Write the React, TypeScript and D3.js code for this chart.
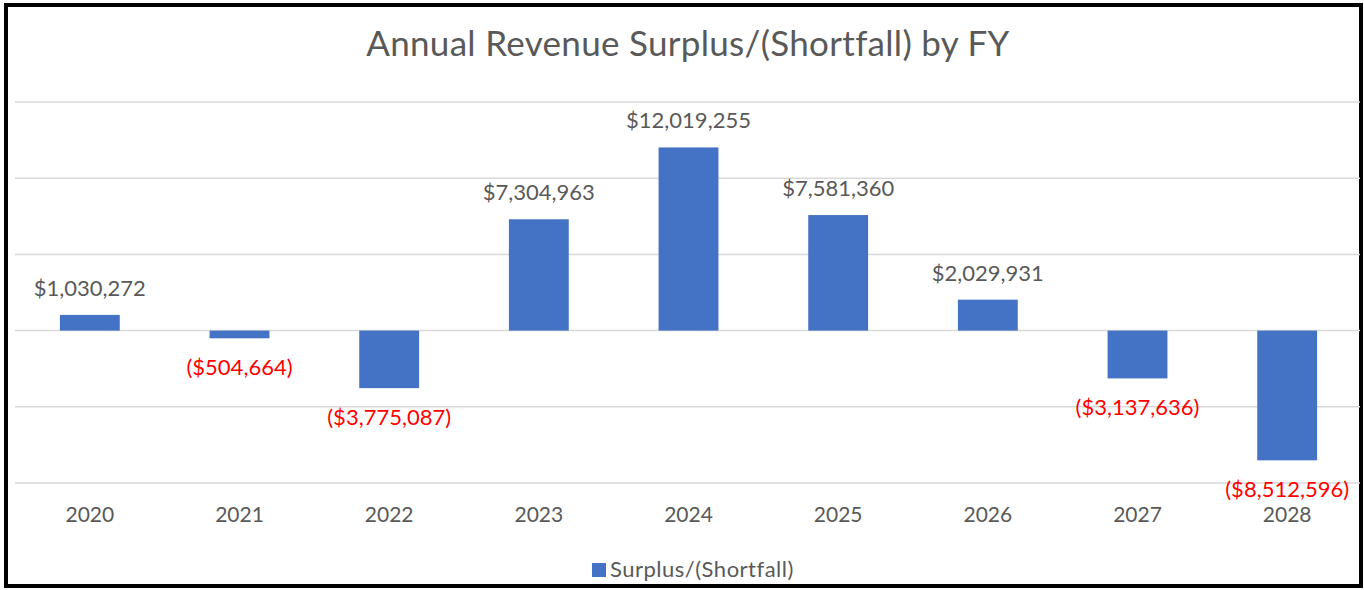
import React, { useEffect, useRef } from 'react';
import * as d3 from 'd3';

const years = ['2020', '2021', '2022', '2023', '2024', '2025', '2026', '2027', '2028'];
const surplus = [1030272, -504664, -3775087, 7304963, 12019255, 7581360, 2029931, -3137636, -8512596];
const gridTicks = [-10000000, -5000000, 0, 5000000, 10000000, 15000000];

const W = 1364;
const H = 590;
const FONT = 'Lato, "Noto Sans", sans-serif';

const fmt = (v: number) => {
  const s = '$' + d3.format(',')(Math.abs(v));
  return v < 0 ? `(${s})` : s;
};

const App = () => {
  const svgRef = useRef<SVGSVGElement>(null);

  useEffect(() => {
    const svg = d3.select(svgRef.current);
    svg.selectAll('*').remove();

    svg.append('rect')
      .attr('width', W).attr('height', H).attr('fill', '#fff');

    // outer frame
    svg.append('rect')
      .attr('x', 6).attr('y', 5)
      .attr('width', 1355).attr('height', 581)
      .attr('fill', 'none').attr('stroke', '#000').attr('stroke-width', 4);

    const x = d3.scaleBand()
      .domain(years)
      .range([15, 1362])
      .paddingInner(0.6)
      .paddingOuter(0.3);

    const y = d3.scaleLinear()
      .domain([-10000000, 15000000])
      .range([483, 102]);

    svg.append('text')
      .attr('x', 688).attr('y', 56)
      .attr('text-anchor', 'middle')
      .attr('font-family', FONT).attr('font-size', 35)
      .attr('letter-spacing', 0.3)
      .attr('fill', '#595959')
      .text('Annual Revenue Surplus/(Shortfall) by FY');

    // gridlines
    svg.append('g').selectAll('line')
      .data(gridTicks)
      .enter().append('line')
      .attr('x1', 15).attr('x2', 1360)
      .attr('y1', d => y(d)).attr('y2', d => y(d))
      .attr('stroke', '#d9d9d9').attr('stroke-width', 1.5);

    svg.append('g').selectAll('rect')
      .data(surplus)
      .enter().append('rect')
      .attr('x', (d, i) => x(years[i]))
      .attr('width', x.bandwidth())
      .attr('y', d => y(Math.max(0, d)))
      .attr('height', d => Math.abs(y(d) - y(0)))
      .attr('fill', '#4472c4');

    svg.append('g').selectAll('text')
      .data(surplus)
      .enter().append('text')
      .attr('x', (d, i) => x(years[i]) + x.bandwidth() / 2)
      .attr('y', d => d >= 0 ? y(d) - 19 : y(d) + 37)
      .attr('text-anchor', 'middle')
      .attr('font-family', FONT).attr('font-size', 22)
      .attr('fill', d => d >= 0 ? '#595959' : '#ff0000')
      .text(d => fmt(d));

    // category labels
    svg.append('g').selectAll('text')
      .data(years)
      .enter().append('text')
      .attr('x', d => x(d) + x.bandwidth() / 2)
      .attr('y', 522)
      .attr('text-anchor', 'middle')
      .attr('font-family', FONT).attr('font-size', 21)
      .attr('fill', '#595959')
      .text(d => d);

    // legend
    const lg = svg.append('g');
    lg.append('rect')
      .attr('x', 592).attr('y', 563)
      .attr('width', 14).attr('height', 14)
      .attr('fill', '#4472c4');
    lg.append('text')
      .attr('x', 610).attr('y', 577)
      .attr('font-family', FONT).attr('font-size', 22)
      .attr('letter-spacing', 0.5)
      .attr('fill', '#595959')
      .text('Surplus/(Shortfall)');
  }, []);

  return (
    <svg ref={svgRef} width={W} height={H}
      style={{ position: 'absolute', left: 0, top: 0, display: 'block' }} />
  );
};

export default App;
